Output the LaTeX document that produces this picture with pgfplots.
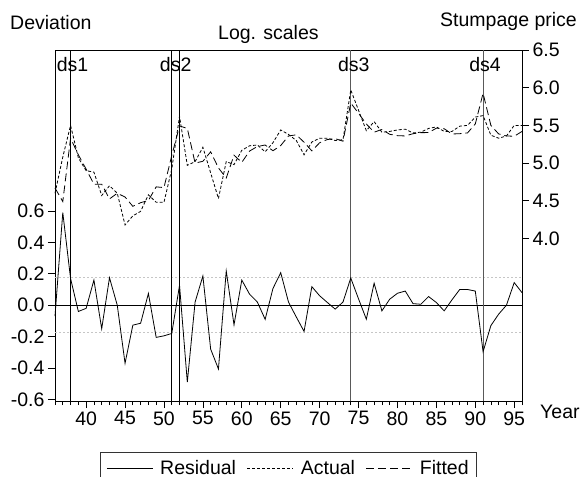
\documentclass[border=0pt]{standalone}
\usepackage{pgfplots}
\usepackage{pgfplotstable}
\pgfplotsset{compat=1.18}
\usepackage{fontspec}
\setmainfont{Liberation Sans}

\pgfplotstableread{
yr res act fit
36 -0.070 4.60 4.670
37 0.590 5.08 4.490
38 0.170 5.50 5.330
39 -0.040 5.07 5.110
40 -0.020 4.90 4.920
41 0.160 4.88 4.720
42 -0.150 4.57 4.720
43 0.175 4.70 4.525
44 0.000 4.60 4.600
45 -0.370 4.18 4.550
46 -0.127 4.30 4.427
47 -0.115 4.36 4.475
48 0.075 4.58 4.505
49 -0.205 4.48 4.685
50 -0.195 4.48 4.675
51 -0.180 4.92 5.100
52 0.127 5.62 5.493
53 -0.490 4.97 5.460
54 0.020 5.02 5.000
55 0.186 5.21 5.024
56 -0.280 4.87 5.150
57 -0.406 4.53 4.936
58 0.218 5.02 4.802
59 -0.125 4.98 5.105
60 0.160 5.17 5.010
61 0.070 5.23 5.160
62 0.020 5.24 5.220
63 -0.090 5.15 5.240
64 0.106 5.27 5.164
65 0.207 5.44 5.233
66 0.020 5.38 5.360
67 -0.075 5.30 5.375
68 -0.167 5.11 5.277
69 0.118 5.28 5.162
70 0.060 5.33 5.270
71 0.017 5.33 5.313
72 -0.025 5.30 5.325
73 0.020 5.31 5.290
74 0.173 5.97 5.797
75 0.040 5.70 5.660
76 -0.089 5.43 5.519
77 0.140 5.55 5.410
78 -0.036 5.41 5.446
79 0.038 5.42 5.382
80 0.076 5.44 5.364
81 0.090 5.45 5.360
82 0.010 5.40 5.390
83 0.006 5.41 5.404
84 0.055 5.46 5.405
85 0.017 5.48 5.463
86 -0.036 5.42 5.456
87 0.034 5.42 5.386
88 0.100 5.49 5.390
89 0.100 5.50 5.400
90 0.090 5.61 5.520
91 -0.296 5.63 5.926
92 -0.130 5.37 5.500
93 -0.057 5.33 5.387
94 0.000 5.36 5.360
95 0.144 5.50 5.356
96 0.080 5.50 5.420
}\data

\begin{document}
\begin{tikzpicture}[font=\fontsize{19.5bp}{23bp}\selectfont]
\useasboundingbox (-55bp,-76bp) rectangle (530bp,401bp);
\pgfplotsset{
  base/.style={
    scale only axis, width=467bp, height=351bp,
    at={(0bp,0bp)}, anchor=south west,
    xmin=36, xmax=96,
    tick align=outside, major tick length=7bp, minor tick length=4bp,
    /pgf/number format/assume math mode=true,
    tick label style={font=\fontsize{19.5bp}{23bp}\selectfont},
    axis line style={line width=0.8bp},
    every tick/.style={black, line width=0.7bp},
    clip=false,
  }
}
\begin{axis}[base,
  ymin=-0.61, ymax=1.625,
  xtick={40,45,...,95}, minor xtick={36,...,96}, xtick pos=lower,
  ytick={-0.6,-0.4,-0.2,0,0.2,0.4,0.6}, ytick pos=left,
  yticklabel style={/pgf/number format/.cd, fixed, fixed zerofill, precision=1},
]
\addplot[gray!45, line width=0.8bp, dash pattern=on 2bp off 2bp, forget plot] coordinates {(36,0.174) (96,0.174)};
\addplot[gray!45, line width=0.8bp, dash pattern=on 2bp off 2bp, forget plot] coordinates {(36,-0.174) (96,-0.174)};
\addplot[black, line width=0.8bp, forget plot] coordinates {(36,0) (96,0)};
\addplot[black, line width=0.8bp, forget plot] coordinates {(38,-0.61) (38,1.625)};
\addplot[black, line width=0.8bp, forget plot] coordinates {(51,-0.61) (51,1.625)};
\addplot[black, line width=0.8bp, forget plot] coordinates {(52,-0.61) (52,1.625)};
\addplot[black!65, line width=0.9bp, forget plot] coordinates {(74,-0.61) (74,1.625)};
\addplot[black!65, line width=0.9bp, forget plot] coordinates {(91,-0.61) (91,1.625)};
\addplot[black, line width=0.8bp] table[x=yr, y=res] {\data};
\end{axis}
\begin{axis}[base,
  ymin=1.845, ymax=6.5,
  axis x line=none, axis y line*=right,
  ytick={4,4.5,5,5.5,6,6.5},
  yticklabel style={/pgf/number format/.cd, fixed, fixed zerofill, precision=1},
  legend columns=3,
  legend style={at={(0.5,-0.145)}, anchor=north, draw=black!80, line width=0.8bp,
    font=\fontsize{19.5bp}{23bp}\selectfont, inner xsep=6bp, inner ysep=6bp,
    /tikz/every odd column/.append style={column sep=5bp},
    /tikz/every even column/.append style={column sep=9bp}},
  legend image code/.code={\draw[#1] (0bp,0bp) -- (46bp,0bp);},
]
\addlegendimage{black, line width=0.8bp}
\addlegendentry{Residual}
\addplot[black, line width=0.8bp, dash pattern=on 3bp off 2bp] table[x=yr, y=act] {\data};
\addlegendentry{Actual}
\addplot[black, line width=0.8bp, dash pattern=on 8bp off 4bp] table[x=yr, y=fit] {\data};
\addlegendentry{Fitted}
\node[anchor=base, xshift=2bp, yshift=-22bp] at (axis cs:38,6.5) {ds1};
\node[anchor=base, yshift=-22bp] at (axis cs:51.5,6.5) {ds2};
\node[anchor=base, xshift=3bp, yshift=-22bp] at (axis cs:74,6.5) {ds3};
\node[anchor=base, xshift=2bp, yshift=-22bp] at (axis cs:91,6.5) {ds4};
\node[anchor=base west, xshift=-45bp, yshift=20bp, inner sep=0pt] at (rel axis cs:0,1) {Deviation};
\node[anchor=base west, xshift=163bp, yshift=10bp, inner sep=0pt] at (rel axis cs:0,1) {Log. scales};
\node[anchor=base east, xshift=55bp, yshift=23bp, inner sep=0pt] at (rel axis cs:1,1) {Stumpage price};
\node[anchor=base west, xshift=18bp, yshift=-17bp, inner sep=0pt] at (rel axis cs:1,0) {Year};
\end{axis}
\end{tikzpicture}
\end{document}
